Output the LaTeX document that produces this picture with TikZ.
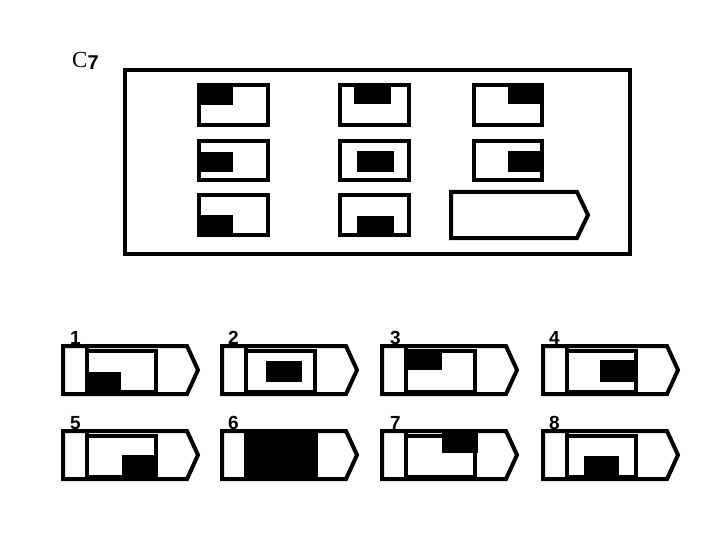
\documentclass[tikz,border=0pt]{standalone}
\usepackage{fontspec}
\setmainfont{Liberation Serif}
\setsansfont{Liberation Sans}
\begin{document}
\begin{tikzpicture}[x=1pt,y=-1pt,
  ln/.style={line width=4pt,line join=miter},
  blk/.style={fill=black},
  lbl/.style={font=\sffamily\bfseries\fontsize{19}{19}\selectfont,inner sep=0pt,anchor=base west}]
\useasboundingbox[fill=white] (0,0) rectangle (720,540);
% title
\node[font=\fontsize{23}{23}\selectfont,inner sep=0pt,anchor=base west] (title) at (72,68) {C\raisebox{-2pt}{\sffamily\bfseries\fontsize{20}{20}\selectfont 7}};
% main frame
\draw[ln] (125,70) rectangle (630,254);
% matrix fills
\fill[blk] (197,83) rectangle (233,105);
\fill[blk] (197,152) rectangle (233,172);
\fill[blk] (197,215) rectangle (233,237);
\fill[blk] (354,83) rectangle (391,104);
\fill[blk] (357,151) rectangle (394,172);
\fill[blk] (357,216) rectangle (394,237);
\fill[blk] (508,83) rectangle (544,104);
\fill[blk] (508,151) rectangle (544,172);
% matrix cells
\foreach \xa/\xb in {199/268,340/409,474/542}{
  \foreach \ya/\yb in {85/125,141/180}{
    \draw[ln] (\xa,\ya) rectangle (\xb,\yb);}}
\draw[ln] (199,195) rectangle (268,235);
\draw[ln] (340,195) rectangle (409,235);
% empty answer slot
\draw[ln] (451,192) -- (577,192) -- (588,215) -- (577,238) -- (451,238) -- cycle;
% option fills
\fill[blk] (61+24,344+28) rectangle (61+60,344+48);
\fill[blk] (220+46,344+17) rectangle (220+82,344+38);
\fill[blk] (380+28,344+6) rectangle (380+62,344+26);
\fill[blk] (541+59,344+16) rectangle (541+96,344+38);
\fill[blk] (61+61,429+26) rectangle (61+96,429+51);
\fill[blk] (220+25,429+0) rectangle (220+98,429+52);
\fill[blk] (380+62,429+3) rectangle (380+98,429+24);
\fill[blk] (541+43,429+27) rectangle (541+78,429+46);
% option outlines
\foreach \x/\y in {61/344,220/344,380/344,541/344,61/429,220/429,380/429,541/429}{
  \begin{scope}[shift={(\x,\y)}]
    \draw[ln] (2,2) -- (126,2) -- (137,26) -- (126,50) -- (2,50) -- cycle;
    \draw[ln] (26,2) -- (26,50);
    \draw[ln] (26,48) -- (26,7) -- (95,7) -- (95,48) -- cycle;
  \end{scope}}
% labels
\node[lbl] (l1) at (70,344) {1};
\node[lbl] (l2) at (228,344) {2};
\node[lbl] (l3) at (390,344) {3};
\node[lbl] (l4) at (549,344) {4};
\node[lbl] (l5) at (70,429) {5};
\node[lbl] (l6) at (228,429) {6};
\node[lbl] (l7) at (390,429) {7};
\node[lbl] (l8) at (549,429) {8};
\end{tikzpicture}
\end{document}
